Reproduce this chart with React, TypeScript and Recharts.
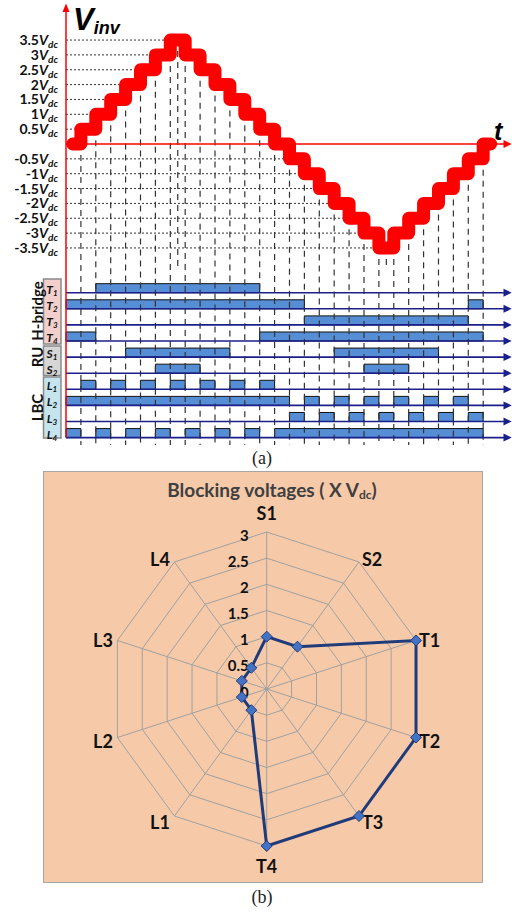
import React from 'react';
import {
  ComposedChart, Line, XAxis, YAxis, ReferenceLine, ReferenceArea,
  RadarChart, Radar, PolarGrid, PolarAngleAxis, PolarRadiusAxis,
} from 'recharts';

// (a) staircase output, step start times (grid units) and level (x Vdc)
const waveT = [0.45, 1, 2, 3, 4, 5, 6, 7, 8, 9, 10, 11, 12, 13, 14, 15, 16, 17, 18, 19, 20, 21, 22, 23, 24, 25, 26, 27, 28, 28.5];
const waveV = [0, 0.5, 1, 1.5, 2, 2.5, 3, 3.5, 3, 2.5, 2, 1.5, 1, 0.5, 0, -0.5, -1, -1.5, -2, -2.5, -3, -3.5, -3, -2.5, -2, -1.5, -1, -0.5, 0, 0];
const levelTicks = [3.5, 3, 2.5, 2, 1.5, 1, 0.5, -0.5, -1, -1.5, -2, -2.5, -3, -3.5];
const gridT = [1, 2, 3, 4, 5, 6, 7, 8, 9, 10, 11, 12, 13, 14, 15, 16, 17, 18, 19, 20, 21, 22, 23, 24, 25, 26, 27, 28];
const peakT = [7.5, 21.5];

// switching pulses [on, off] in grid units
const rowNames = ['T1', 'T2', 'T3', 'T4', 'S1', 'S2', 'L1', 'L2', 'L3', 'L4'];
const pulsesT1 = [[2, 13]];
const pulsesT2 = [[0, 16], [27, 28]];
const pulsesT3 = [[16, 27]];
const pulsesT4 = [[0, 2], [13, 28]];
const pulsesS1 = [[4, 11], [18, 25]];
const pulsesS2 = [[6, 9], [20, 23]];
const pulsesL1 = [[1, 2], [3, 4], [5, 6], [7, 8], [9, 10], [11, 12], [13, 14]];
const pulsesL2 = [[0, 15], [16, 17], [18, 19], [20, 21], [22, 23], [24, 25], [26, 27]];
const pulsesL3 = [[15, 16], [17, 18], [19, 20], [21, 22], [23, 24], [25, 26], [27, 28]];
const pulsesL4 = [[0, 1], [2, 3], [4, 5], [6, 7], [8, 9], [10, 11], [12, 13], [14, 28]];
const rowPulses = [pulsesT1, pulsesT2, pulsesT3, pulsesT4, pulsesS1, pulsesS2, pulsesL1, pulsesL2, pulsesL3, pulsesL4];

// (b) blocking voltages
const switches = ['S1', 'S2', 'T1', 'T2', 'T3', 'T4', 'L1', 'L2', 'L3', 'L4'];
const blocking = [1, 1, 3, 3, 3, 3, 0.5, 0.5, 0.5, 0.5];
const radialTicks = [0, 0.5, 1, 1.5, 2, 2.5, 3];

// layout
const X_MAX = 29.8;
const CH_H = 445;        // chart (a) height
const K = 29.7;          // px per Vdc
const ZERO_Y = 144;
const V_MAX = 4.6;
const PLOT_TOP = ZERO_Y - V_MAX * K;
const V_BOT = (ZERO_Y - CH_H) / K;
const V_MIN = -4.2;
const ROW_K = 16.1;      // px per row
const T1_Y = 292.7;
const ROWS_MAX = 9 + (T1_Y - PLOT_TOP) / ROW_K;
const ROWS_MIN = 9 - (CH_H - T1_Y) / ROW_K;
const BAR_H = 0.56;
const LABEL_RIGHT = 58;
const RCX = 223.7;
const RCY = 218;
const R = 157;

const RED = '#ff0000';
const NAVY = '#1b1f8a';
const BLUE = '#558ed5';

const waveData = waveT.map((t, i) => ({ t, v: waveV[i] }));
const levelAt = (t: number) => {
  let v = waveV[0];
  waveT.forEach((wt, i) => { if (wt <= t) v = waveV[i]; });
  return v;
};
const rowBase = (r: number) => 9 - r;
const rowPx = (r: number) => T1_Y + r * ROW_K;

const radarData = switches.map((name, i) => ({ name, value: blocking[i] }));

const arrowRight = (color: string, w: number) => (p: any) => (
  <g>
    <line x1={p.x1} y1={p.y1} x2={p.x2 - 3} y2={p.y2} stroke={color} strokeWidth={w} />
    <polygon points={`${p.x2 + 1.7},${p.y2} ${p.x2 - 6.5},${p.y2 - 4} ${p.x2 - 6.5},${p.y2 + 4}`} fill={color} />
  </g>
);
const arrowUp = (color: string) => (p: any) => (
  <g>
    <line x1={p.x1} y1={p.y1} x2={p.x2} y2={p.y2} stroke={color} strokeWidth={1.5} />
    <polygon points={`${p.x2},${p.y2 - 4} ${p.x2 - 3.5},${p.y2 + 4.5} ${p.x2 + 3.5},${p.y2 + 4.5}`} fill={color} />
  </g>
);

const VTick = ({ y, payload }: any) => (
  <text x={LABEL_RIGHT} y={y + 5} textAnchor="end" fontFamily="Lato" fontWeight={700} fontSize={14} fill="#111">
    {payload.value}
    <tspan fontStyle="italic">V</tspan>
    <tspan fontSize={10} fontStyle="italic" dy={3}>dc</tspan>
  </text>
);

const AngleTick = ({ x, y, payload }: any) => {
  const dx = x - RCX;
  const dy = y - RCY;
  const d = Math.hypot(dx, dy) || 1;
  const ux = dx / d;
  const uy = dy / d;
  const ex = RCX + ux * R;
  const ey = RCY + uy * R;
  let tx = ex;
  let ty = ey;
  let anchor = 'middle';
  let base = 'alphabetic';
  if (uy < -0.95) ty = ey - 12;
  else if (uy > 0.95) ty = ey + 27;
  else {
    tx = ex + (ux > 0 ? 3 : -4.5);
    anchor = ux > 0 ? 'start' : 'end';
    ty = ey + uy * 5 + 1.5;
    base = 'central';
  }
  return (
    <text x={tx} y={ty} textAnchor={anchor} dominantBaseline={base} fontFamily="Lato" fontWeight={700} fontSize={18} fill="#111">
      {payload.value}
    </text>
  );
};

const RadiusTick = ({ x, y, payload }: any) => (
  <text x={x - 18} y={y + 2.5} textAnchor="end" dominantBaseline="central" fontFamily="Lato" fontWeight={700} fontSize={15} fill="#111">
    {payload.value}
  </text>
);

const Diamond = (p: any) => (
  <polygon
    key={`dm-${p.index}`}
    points={`${p.cx},${p.cy - 5.5} ${p.cx + 5.5},${p.cy} ${p.cx},${p.cy + 5.5} ${p.cx - 5.5},${p.cy}`}
    fill="#4472c4" stroke="#1f3b7a" strokeWidth={1}
  />
);

export default function App() {
  return (
    <div style={{ position: 'absolute', left: 0, top: 0, width: 512, height: 912, background: '#fff', overflow: 'hidden' }}>
      {/* waveform and switching states */}
      <div style={{ position: 'absolute', left: 0, top: 0 }}>
        <ComposedChart width={512} height={CH_H} data={waveData}
          margin={{ top: PLOT_TOP, right: 2, bottom: 0, left: 0 }}>
          <XAxis dataKey="t" type="number" domain={[0, X_MAX]} allowDataOverflow hide />
          <YAxis yAxisId="v" type="number" domain={[V_BOT, V_MAX]} allowDataOverflow ticks={levelTicks} interval={0} width={66}
            axisLine={false} tickLine={false} tickSize={0} tickMargin={0} tick={<VTick />} />
          <YAxis yAxisId="rows" type="number" domain={[ROWS_MIN, ROWS_MAX]} allowDataOverflow hide />

          {levelTicks.map((lv) => (
            <ReferenceLine key={`lv${lv}`} yAxisId="v" segment={[{ x: 0, y: lv }, { x: waveT[waveV.indexOf(lv)], y: lv }]}
              stroke="#333" strokeWidth={1} strokeDasharray="2 2" />
          ))}
          {gridT.map((t) => (
            <ReferenceLine key={`g${t}`} yAxisId="v" segment={[{ x: t, y: Math.min(levelAt(t - 0.01), levelAt(t)) }, { x: t, y: V_BOT }]}
              stroke="#333" strokeWidth={1.2} strokeDasharray="6 5" />
          ))}
          {peakT.map((t) => (
            <ReferenceLine key={`p${t}`} yAxisId="v" segment={[{ x: t, y: levelAt(t) }, { x: t, y: V_MIN }]}
              stroke="#333" strokeWidth={1.2} strokeDasharray="6 5" />
          ))}

          {rowPulses.map((pulses, r) => pulses.map(([a, b], j) => (
            <ReferenceArea key={`b${r}-${j}`} yAxisId="rows" x1={a} x2={b} y1={rowBase(r)} y2={rowBase(r) + BAR_H}
              fill={BLUE} fillOpacity={1} stroke="#111" strokeWidth={1} />
          )))}
          {rowNames.map((n, r) => (
            <ReferenceLine key={`base${n}`} yAxisId="rows" segment={[{ x: 0, y: rowBase(r) }, { x: X_MAX, y: rowBase(r) }]}
              shape={arrowRight(NAVY, 1.6)} />
          ))}

          <Line yAxisId="v" type="stepAfter" dataKey="v" stroke={RED} strokeWidth={13} dot={false}
            strokeLinejoin="round" strokeLinecap="round" isAnimationActive={false} />
          <ReferenceLine yAxisId="v" segment={[{ x: 0, y: 0 }, { x: X_MAX, y: 0 }]} shape={arrowRight(RED, 1.5)} />
          <ReferenceLine yAxisId="rows" segment={[{ x: 0, y: 0 }, { x: 0, y: ROWS_MAX }]} shape={arrowUp(RED)} />
        </ComposedChart>
      </div>

      {/* blocking voltage radar */}
      <div style={{ position: 'absolute', left: 43, top: 471, width: 440, height: 412, background: '#f6caa9', border: '1px solid #a6a6a6', boxSizing: 'border-box' }} />
      <div style={{ position: 'absolute', left: 43, top: 471 }}>
        <RadarChart width={440} height={412} cx={RCX} cy={RCY} outerRadius={R} data={radarData}
          startAngle={90} endAngle={-270} margin={{ top: 0, right: 0, bottom: 0, left: 0 }}>
          <PolarGrid gridType="polygon" stroke="#a0a0a0" strokeWidth={1} />
          <PolarAngleAxis dataKey="name" tick={<AngleTick />} tickLine={false} axisLine={false} />
          <PolarRadiusAxis angle={90} domain={[0, 3]} ticks={radialTicks} tickCount={7}
            tick={<RadiusTick />} axisLine={false} />
          <Radar dataKey="value" stroke="#1f3b7a" strokeWidth={3} fill="none" fillOpacity={0}
            dot={Diamond} isAnimationActive={false} />
        </RadarChart>
      </div>

      {/* annotations */}
      <svg width={512} height={912} style={{ position: 'absolute', left: 0, top: 0, pointerEvents: 'none' }}>
        <text x={73} y={30} fontFamily="Liberation Sans" fontWeight={700} fontStyle="italic" fontSize={31} fill="#000">
          V<tspan fontSize={18} dy={4}>inv</tspan>
        </text>
        <text x={494} y={140} fontFamily="Liberation Sans" fontWeight={700} fontStyle="italic" fontSize={25} fill="#000">t</text>

        <rect x={43.5} y={279} width={17.5} height={65} fill="#f2cfcb" stroke="#8a8a8a" strokeWidth={1.5} />
        <rect x={43.5} y={346} width={17.5} height={29.5} fill="#d6d6d6" stroke="#8a8a8a" strokeWidth={1.5} />
        <rect x={43.5} y={377} width={17.5} height={61} fill="#c6e4ee" stroke="#8a8a8a" strokeWidth={1.5} />
        <text transform="translate(42.5,311) rotate(-90)" textAnchor="middle" fontFamily="Lato" fontWeight={700} fontSize={15} fill="#111">H-bridge</text>
        <text transform="translate(42.5,357) rotate(-90)" textAnchor="middle" fontFamily="Lato" fontWeight={700} fontSize={15} fill="#111">RU</text>
        <text transform="translate(42.5,407.5) rotate(-90)" textAnchor="middle" fontFamily="Lato" fontWeight={700} fontSize={15} fill="#111">LBC</text>
        {rowNames.map((n, r) => (
          <text key={`rl${n}`} x={52} y={rowPx(r) + 1} textAnchor="middle" fontFamily="Lato" fontWeight={700} fontStyle="italic" fontSize={12} fill="#111">
            {n[0]}<tspan fontSize={8} dy={2}>{n[1]}</tspan>
          </text>
        ))}
        <text x={262} y={464} textAnchor="middle" fontFamily="Liberation Serif" fontSize={18} fill="#222">(a)</text>

        <text x={272} y={497} textAnchor="middle" fontFamily="Lato" fontWeight={700} fontSize={19} fill="#404040">
          Blocking voltages ( X V<tspan fontSize={12} dy={2}>dc</tspan><tspan dy={-2}>)</tspan>
        </text>
        <text x={262} y={903} textAnchor="middle" fontFamily="Liberation Serif" fontSize={18} fill="#222">(b)</text>
      </svg>
    </div>
  );
}
